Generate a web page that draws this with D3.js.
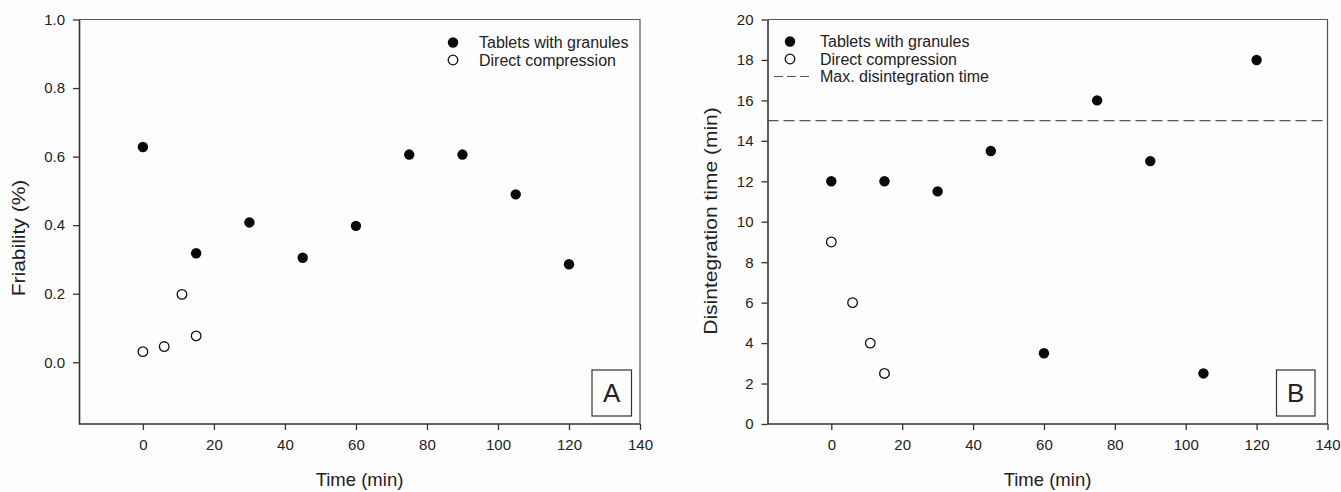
<!DOCTYPE html>
<html>
<head>
<meta charset="utf-8">
<script src="https://cdn.jsdelivr.net/npm/d3@7"></script>
<style>
  html, body { margin: 0; padding: 0; background: #fdfdfd; }
  svg { display: block; }
  text { font-family: Arial, "Liberation Sans", sans-serif; fill: #222; }
</style>
</head>
<body>
<svg id="chart" width="1341" height="492"></svg>
<script>
// ---- Data ----
const granTime = [0, 15, 30, 45, 60, 75, 90, 105, 120];
const granFriability = [0.628, 0.318, 0.408, 0.305, 0.398, 0.606, 0.606, 0.490, 0.286];
const granDisint = [12, 12, 11.5, 13.5, 3.5, 16, 13, 2.5, 18];

const directTime = [0, 6, 11, 15];
const directFriability = [0.031, 0.046, 0.198, 0.077];
const directDisint = [9, 6, 4, 2.5];

const maxDisintegration = 15;

const xTicks = [0, 20, 40, 60, 80, 100, 120, 140];
const yTicksA = [0.0, 0.2, 0.4, 0.6, 0.8, 1.0];
const yTicksB = [0, 2, 4, 6, 8, 10, 12, 14, 16, 18, 20];

const legendA = ["Tablets with granules", "Direct compression"];
const legendB = ["Tablets with granules", "Direct compression", "Max. disintegration time"];

const svg = d3.select("#chart");

function panel(cfg) {
  const g = svg.append("g");
  const x = d3.scaleLinear().domain([-18, 140]).range([cfg.left, cfg.right]);
  const y = d3.scaleLinear().domain(cfg.yDomain).range([cfg.bottom, cfg.top]);

  // frame (top & right)
  g.append("path")
    .attr("d", `M${cfg.left},${cfg.top}H${cfg.right}V${cfg.bottom}`)
    .attr("fill", "none").attr("stroke", "#555").attr("stroke-width", 1.2);

  const xAxis = g.append("g").attr("transform", `translate(0,${cfg.bottom})`)
    .call(d3.axisBottom(x).tickValues(xTicks).tickSize(6).tickPadding(9).tickSizeOuter(0));
  const yAxis = g.append("g").attr("transform", `translate(${cfg.left},0)`)
    .call(d3.axisLeft(y).tickValues(cfg.yTicks).tickFormat(cfg.fmt).tickSize(6).tickPadding(8).tickSizeOuter(0));
  [xAxis, yAxis].forEach(a => {
    a.select(".domain").attr("stroke", "#333").attr("stroke-width", 1.6);
    a.selectAll(".tick line").attr("stroke", "#333").attr("stroke-width", 1.3);
    a.selectAll(".tick text").attr("font-size", 15).attr("font-family", "Arial, 'Liberation Sans', sans-serif").attr("fill", "#222");
  });
  xAxis.select(".domain").attr("d", `M${cfg.left},0H${cfg.right}`);

  // axis titles
  g.append("text").attr("x", (cfg.left + cfg.right) / 2).attr("y", 486)
    .attr("text-anchor", "middle").attr("font-size", 18.5).text("Time (min)");
  g.append("text")
    .attr("transform", `translate(${cfg.ylabelX},${cfg.ylabelY}) rotate(-90) scale(1,0.88)`)
    .attr("text-anchor", "middle").attr("font-size", 21).text(cfg.ylabel);

  // dashed reference
  if (cfg.refLine !== undefined) {
    g.append("line").attr("x1", cfg.left).attr("x2", cfg.right)
      .attr("y1", y(cfg.refLine)).attr("y2", y(cfg.refLine))
      .attr("stroke", "#555").attr("stroke-width", 1.2).attr("stroke-dasharray", "11,5");
  }

  // points
  g.selectAll(".dir").data(directTime).enter().append("circle")
    .attr("cx", d => x(d)).attr("cy", (d, i) => y(cfg.dirVals[i])).attr("r", 4.8)
    .attr("fill", "#fff").attr("stroke", "#111").attr("stroke-width", 1.3);
  g.selectAll(".gran").data(granTime).enter().append("circle")
    .attr("cx", d => x(d)).attr("cy", (d, i) => y(cfg.granVals[i])).attr("r", 5.2)
    .attr("fill", "#0a0a0a");

  // legend
  const L = cfg.legend;
  cfg.legendItems.forEach((t, i) => {
    const ly = L.y + i * 17.5;
    if (i === 0) g.append("circle").attr("cx", L.mx).attr("cy", ly).attr("r", 5.2).attr("fill", "#0a0a0a");
    else if (i === 1) g.append("circle").attr("cx", L.mx).attr("cy", ly).attr("r", 4.8)
      .attr("fill", "#fff").attr("stroke", "#111").attr("stroke-width", 1.3);
    else g.append("line").attr("x1", L.mx - 16).attr("x2", L.mx + 21).attr("y1", ly).attr("y2", ly)
      .attr("stroke", "#555").attr("stroke-width", 1.2).attr("stroke-dasharray", "9,4");
    g.append("text").attr("x", L.tx).attr("y", ly).attr("dy", "0.35em")
      .attr("font-size", 16).text(t);
  });

  // panel label box
  const B = cfg.box;
  g.append("rect").attr("x", B.x).attr("y", B.y).attr("width", B.w).attr("height", B.h)
    .attr("fill", "none").attr("stroke", "#333").attr("stroke-width", 1.2);
  g.append("text").attr("x", B.x + B.w / 2).attr("y", B.y + B.h / 2).attr("dy", "0.36em")
    .attr("text-anchor", "middle").attr("font-size", 26).text(cfg.label);
}

panel({
  left: 79, right: 640, top: 19.5, bottom: 424,
  yDomain: [-0.18, 1.0], yTicks: yTicksA, fmt: d3.format(".1f"),
  ylabel: "Friability (%)", ylabelX: 25, ylabelY: 238,
  granVals: granFriability, dirVals: directFriability,
  legend: { mx: 453, tx: 479, y: 42.5 }, legendItems: legendA,
  box: { x: 592, y: 370, w: 39.5, h: 46 }, label: "A"
});

panel({
  left: 767.5, right: 1327.5, top: 19.5, bottom: 424,
  yDomain: [0, 20], yTicks: yTicksB, fmt: d3.format("d"),
  ylabel: "Disintegration time (min)", ylabelX: 717, ylabelY: 221,
  granVals: granDisint, dirVals: directDisint, refLine: maxDisintegration,
  legend: { mx: 790, tx: 820, y: 41.5 }, legendItems: legendB,
  box: { x: 1276.5, y: 370, w: 38.5, h: 46 }, label: "B"
});
</script>
</body>
</html>
